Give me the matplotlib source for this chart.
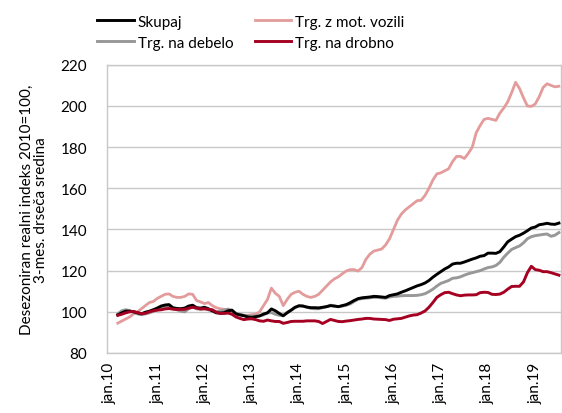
import numpy as np
import matplotlib.pyplot as plt

plt.rcParams['font.family'] = ['Lato', 'DejaVu Sans']

# monthly data, mar 2010 - jul 2019 (3-month moving average)
start_month = 2  # months after jan 2010

skupaj = [
    98.5, 99.5, 100.3, 100.3, 100.0, 99.5, 99.0, 99.8, 100.3, 101.0,
    101.8, 102.8, 103.3, 103.5, 102.0, 101.6, 101.5, 101.8, 102.8, 103.2, 102.0, 101.8,
    102.2, 101.5, 100.5, 99.5, 99.4, 99.6, 100.5, 100.8, 99.0, 98.5, 98.1, 97.5,
    97.3, 97.6, 98.0, 98.9, 99.5, 101.4, 100.5, 99.2, 98.1, 99.5, 100.8, 102.2,
    102.9, 102.8, 102.3, 102.0, 102.0, 101.9, 102.2, 102.5, 103.0, 102.8, 102.5, 103.0,
    103.5, 104.4, 105.5, 106.4, 106.8, 107.0, 107.2, 107.5, 107.4, 107.2, 107.0, 107.9,
    108.3, 108.7, 109.5, 110.2, 111.0, 111.8, 112.6, 113.2, 114.0, 115.2, 116.8, 118.2,
    119.5, 120.8, 121.8, 123.2, 123.6, 123.6, 124.2, 124.9, 125.6, 126.2, 127.0, 127.3,
    128.5, 128.5, 128.4, 129.2, 131.5, 134.0, 135.3, 136.5, 137.2, 138.2, 139.4, 140.7,
    141.2, 142.3, 142.6, 143.0, 142.6, 142.5, 143.1,
]
mot_vozila = [
    94.5, 95.5, 96.5, 97.5, 99.0, 100.0, 101.5, 103.0, 104.5, 105.0,
    106.5, 107.5, 108.5, 108.7, 107.5, 107.0, 107.0, 107.5, 108.7, 108.5, 105.5, 104.8,
    104.0, 104.5, 103.0, 102.0, 101.5, 101.2, 101.0, 100.0, 99.0, 98.5, 98.2, 98.3,
    98.6, 98.8, 100.0, 103.0, 106.0, 111.5, 109.0, 107.5, 103.0, 106.0, 108.5, 109.5,
    110.0, 108.5, 107.5, 107.0, 107.5, 108.5, 110.5, 112.5, 114.5, 116.0, 117.0, 118.5,
    119.8, 120.5, 120.5, 119.8, 121.5, 125.5, 128.0, 129.5, 130.0, 130.5, 132.5, 135.5,
    140.0, 144.5, 147.5, 149.5, 151.0, 152.5, 154.0, 154.2, 156.5, 160.0, 164.0, 167.0,
    167.5, 168.5, 169.5, 173.0, 175.5, 175.5, 174.5, 177.0, 180.0, 187.0, 190.5, 193.5,
    194.0, 193.5, 193.0, 196.5, 199.0, 202.0, 206.5, 211.5, 208.5, 204.0, 200.0, 199.8,
    201.0, 204.5, 209.0, 210.8, 210.0, 209.3, 209.6,
]
na_debelo = [
    99.0, 100.5, 101.0, 100.6, 99.8, 99.0, 98.6, 99.0, 99.5, 100.2,
    101.0, 101.8, 102.5, 102.6, 101.5, 101.0, 100.3, 100.0, 101.5, 102.5, 101.5, 101.2,
    101.5, 101.0, 100.2, 100.0, 100.3, 100.8, 101.3, 100.5, 99.2, 98.8, 98.3, 98.0,
    97.8, 98.0, 98.0, 98.5, 99.5, 99.6, 98.8, 98.3, 98.1, 99.8, 100.8, 102.0,
    103.0, 102.8, 102.2, 101.7, 101.5, 101.5, 102.0, 102.5, 103.2, 102.8, 102.5, 102.8,
    103.2, 103.8, 105.0, 106.1, 106.4, 106.6, 106.8, 107.0, 107.0, 106.8, 106.6, 107.2,
    107.5, 107.6, 107.8, 107.9, 107.9, 107.9, 108.0, 108.3, 108.8, 109.8, 111.0, 112.5,
    113.8, 114.5, 115.2, 116.3, 116.5, 117.0, 117.8, 118.5, 119.0, 119.5, 120.0, 120.8,
    121.5, 121.8, 122.5, 124.0, 126.5, 128.5, 130.3, 131.2, 132.0, 133.5, 135.5, 136.5,
    137.0, 137.3, 137.6, 137.8, 136.7, 137.2, 138.5,
]
na_drobno = [
    98.3, 98.8, 99.5, 100.0, 100.2, 99.6, 99.1, 99.3, 100.0, 100.5,
    100.8, 101.0, 101.4, 101.6, 101.3, 101.1, 101.2, 101.2, 101.8, 102.2, 101.8, 101.4,
    101.5, 101.2, 101.0, 99.8, 99.2, 99.2, 99.4, 98.8, 97.5, 96.8, 96.2, 96.5,
    96.6, 96.2, 95.6, 95.4, 96.0, 95.6, 95.3, 95.3, 94.4, 94.8, 95.3, 95.4,
    95.4, 95.4, 95.6, 95.6, 95.6, 95.3, 94.3, 95.3, 96.3, 95.8, 95.3, 95.2,
    95.5, 95.7, 96.0, 96.3, 96.5, 96.8, 96.8, 96.5, 96.4, 96.3, 96.2, 95.8,
    96.4, 96.6, 96.8, 97.4, 98.0, 98.4, 98.6, 99.4, 100.4, 102.2, 104.5, 107.0,
    108.3, 109.3, 109.5, 108.8, 108.2, 107.8, 108.1, 108.2, 108.2, 108.3, 109.3, 109.5,
    109.4, 108.5, 108.4, 108.6, 109.5, 111.0, 112.3, 112.4, 112.4, 114.5, 119.0, 122.1,
    120.5, 120.2, 119.5, 119.5, 119.0, 118.4, 117.8,
]

tick_labels = ['jan.10', 'jan.11', 'jan.12', 'jan.13', 'jan.14',
               'jan.15', 'jan.16', 'jan.17', 'jan.18', 'jan.19']

x = np.arange(len(skupaj)) + start_month

fig = plt.figure(figsize=(5.62, 4.14), dpi=100)
ax = fig.add_axes([0.190, 0.145, 0.808, 0.696])

l1, = ax.plot(x, skupaj, color='black', lw=2.1, label='Skupaj')
l2, = ax.plot(x, mot_vozila, color='#E39B9B', lw=2.0, label='Trg. z mot. vozili')
l3, = ax.plot(x, na_debelo, color='#989898', lw=2.1, label='Trg. na debelo')
l4, = ax.plot(x, na_drobno, color='#A50021', lw=2.1, label='Trg. na drobno')
l1.set_zorder(3)
l4.set_zorder(4)

ax.set_ylim(80, 220)
ax.set_yticks(range(80, 221, 20))
ax.set_xlim(-0.8, 114.5)
ax.set_xticks(np.arange(len(tick_labels)) * 12)
ax.set_xticklabels(tick_labels, rotation=90)
ax.tick_params(length=0, labelsize=11, colors='black')
ax.tick_params(axis='y', pad=14)
ax.tick_params(axis='x', pad=6)
ax.grid(axis='y', color='#c8c8c8', lw=1)
ax.set_axisbelow(True)
for s in ax.spines.values():
    s.set_color('#c8c8c8')
    s.set_linewidth(1)

ax.set_ylabel('Desezoniran realni indeks 2010=100,\n3-mes. drseča sredina',
              fontsize=11, linespacing=1.05, labelpad=9)

fig.legend(handles=[l1, l3, l2, l4], ncol=2, loc='upper center',
           bbox_to_anchor=(0.446, 0.995), frameon=False, fontsize=11,
           handlelength=2.4, handletextpad=0.25, columnspacing=1.4,
           labelspacing=0.45)

fig.savefig('out.png', dpi=100)
